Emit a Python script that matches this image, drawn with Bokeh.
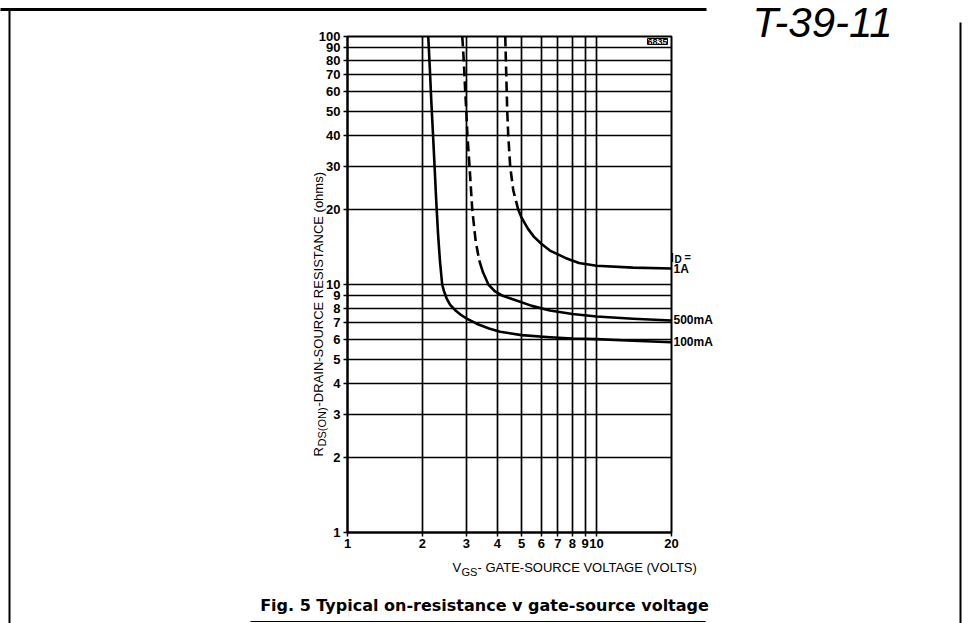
import numpy as np
from bokeh.plotting import figure
from bokeh.models import Range1d, LinearScale, FixedTicker
from bokeh.core.properties import value
from bokeh.embed import file_html
from bokeh.resources import INLINE

# ---------------- data ----------------
x_ticks = [1, 2, 3, 4, 5, 6, 7, 8, 9, 10, 20]
x_tick_labels = ["1", "2", "3", "4", "5", "6", "7", "8", "9", "10", "20"]
y_ticks = [1, 2, 3, 4, 5, 6, 7, 8, 9, 10, 20, 30, 40, 50, 60, 70, 80, 90, 100]
y_tick_labels = ["1", "2", "3", "4", "5", "6", "7", "8", "9", "10",
                 "20", "30", "40", "50", "60", "70", "80", "90", "100"]

# I_D = 100 mA (solid)
vgs_100ma = [2.11, 2.14, 2.17, 2.20, 2.23, 2.27, 2.31, 2.35, 2.40, 2.44, 2.50, 2.58,
             2.70, 2.85, 3.0, 3.3, 3.7, 4.1, 5.0, 6.5, 8.0, 10, 14, 20]
rds_100ma = [100, 75, 55, 42, 32, 22, 16, 12.5, 10, 9.4, 8.8, 8.3,
             7.9, 7.55, 7.3, 6.95, 6.65, 6.45, 6.25, 6.13, 6.06, 6.02, 5.93, 5.85]

# I_D = 500 mA (dashed upper part, solid lower part)
vgs_500ma_dash = [2.89, 2.93, 2.97, 3.00, 3.03, 3.09, 3.17, 3.27, 3.38]
rds_500ma_dash = [100, 80, 60, 50, 40, 30, 20, 15, 12.5]
vgs_500ma = [3.38, 3.5, 3.68, 3.9, 4.2, 4.8, 5.5, 6.5, 8, 10, 14, 20]
rds_500ma = [12.5, 11.2, 10, 9.4, 9.0, 8.6, 8.2, 7.85, 7.6, 7.43, 7.28, 7.16]

# I_D = 1 A (dashed upper part, solid lower part)
vgs_1a_dash = [4.30, 4.34, 4.38, 4.42, 4.50, 4.63, 4.85]
rds_1a_dash = [100, 70, 50, 40, 30, 24, 20]
vgs_1a = [4.85, 5.0, 5.3, 5.6, 6.0, 6.5, 7.5, 8.5, 10, 14, 20]
rds_1a = [20, 18.6, 16.8, 15.6, 14.6, 13.7, 12.8, 12.2, 11.9, 11.7, 11.6]

series_labels = ["1A", "500mA", "100mA"]
series_ends = [rds_1a[-1], rds_500ma[-1], rds_100ma[-1]]

# ---------------- layout ----------------
W, H = 968, 623
L, T = 347, 36
FW, FH = 324, 496
R, B = W - L - FW, H - T - FH

p = figure(width=W, height=H, x_axis_type="log", y_axis_type="log",
           x_range=Range1d(1, 20), y_range=Range1d(1, 100),
           output_backend="svg", toolbar_location=None,
           min_border_left=L, min_border_right=R, min_border_top=T, min_border_bottom=B,
           background_fill_color="white", border_fill_color="white")

# page-pixel coordinates for decorations and texts
p.extra_x_ranges = {"px": Range1d(L, L + FW)}
p.extra_y_ranges = {"py": Range1d(T + FH, T)}
p.extra_x_scales = {"px": LinearScale()}
p.extra_y_scales = {"py": LinearScale()}

p.outline_line_color = "black"
p.outline_line_width = 2
p.outline_line_alpha = 1

for ax, ticks, labels in ((p.xaxis[0], x_ticks, x_tick_labels), (p.yaxis[0], y_ticks, y_tick_labels)):
    ax.ticker = FixedTicker(ticks=ticks)
    ax.major_label_overrides = {t: s for t, s in zip(ticks, labels)}
    ax.axis_line_color = "black"
    ax.axis_line_width = 2
    ax.major_tick_line_color = "black"
    ax.major_tick_line_width = 1.5
    ax.major_tick_out = 4
    ax.major_tick_in = 0
    ax.minor_tick_line_color = None
    ax.major_label_text_font = "Liberation Sans"
    ax.major_label_text_font_style = "bold"
    ax.major_label_text_font_size = "13px"
    ax.major_label_text_color = "black"
p.xaxis.major_label_standoff = 2
p.yaxis.major_label_standoff = 3

p.xgrid.ticker = FixedTicker(ticks=x_ticks)
p.ygrid.ticker = FixedTicker(ticks=y_ticks)
for g in (p.xgrid[0], p.ygrid[0]):
    g.grid_line_color = "black"
    g.grid_line_width = 1.7
    g.grid_line_alpha = 1
    g.minor_grid_line_color = None

# ---------------- curves ----------------
lw = 2.6
p.line(vgs_100ma, rds_100ma, line_color="black", line_width=lw, line_join="round")
p.line(vgs_500ma_dash, rds_500ma_dash, line_color="black", line_width=lw, line_dash="10 5")
p.line(vgs_500ma, rds_500ma, line_color="black", line_width=lw, line_join="round")
p.line(vgs_1a_dash, rds_1a_dash, line_color="black", line_width=lw, line_dash="10 5")
p.line(vgs_1a, rds_1a, line_color="black", line_width=lw, line_join="round")

# ---------------- texts (overlay level, not clipped) ----------------
def txt(x, y, text, size="12px", font="Liberation Sans", style="normal",
        align="left", baseline="alphabetic", angle=0, page=True, **kw):
    extra = dict(x_range_name="px", y_range_name="py") if page else {}
    p.text(x=[x], y=[y], text=[text], angle=angle,
           text_font=value(font), text_font_size=value(size), text_font_style=style,
           text_align=align, text_baseline=baseline, text_color="black",
           level="overlay", **extra, **kw)

# series labels at the right end of the curves
for name, yend in zip(series_labels, series_ends):
    p.text(x=[20], y=[yend], text=[name], x_offset=2,
           text_font=value("Liberation Sans"), text_font_size=value("12px"),
           text_font_style="bold", text_baseline="middle", text_color="black",
           level="overlay")
txt(670, 257, "I", size="12px", style="bold")
txt(674, 259, "D", size="10px", style="bold")
txt(684, 256, "=", size="11px", style="bold")

# figure code in corner
txt(667, 41, "6835", size="9px", style="bold", align="right", baseline="middle",
    background_fill_color="white", border_line_color="black", border_line_width=1)

# x-axis title
txt(452, 567, "V", size="13px")
txt(461, 571, "GS", size="11px")
txt(477, 567, "- GATE-SOURCE VOLTAGE (VOLTS)", size="13px")

# y-axis title (rotated, reading upwards)
ang = np.pi / 2
txt(318, 456, "R", size="13px", angle=ang)
txt(321, 446, "DS(ON)", size="11px", angle=ang)
txt(318, 406, "-DRAIN-SOURCE RESISTANCE (ohms)", size="13px", angle=ang)

# caption
txt(484, 605, "Fig. 5 Typical on-resistance v gate-source voltage", size="16px",
    font="DejaVu Sans", style="bold", align="center")

# handwritten stamp
txt(752, 22, "T-39-11", size="42px", font="Liberation Sans", style="italic")

# page frame (document border)
frame_xs = [[0, 706], [9, 9], [960, 960], [250, 705]]
frame_ys = [[9, 9], [10, 623], [22, 623], [621, 621]]
frame_w = [3, 2, 2, 1]
for xs, ys, w in zip(frame_xs, frame_ys, frame_w):
    p.line(xs, ys, x_range_name="px", y_range_name="py", line_color="black",
           line_width=w, level="overlay")

open("out.html", "w").write(file_html(p, INLINE))
